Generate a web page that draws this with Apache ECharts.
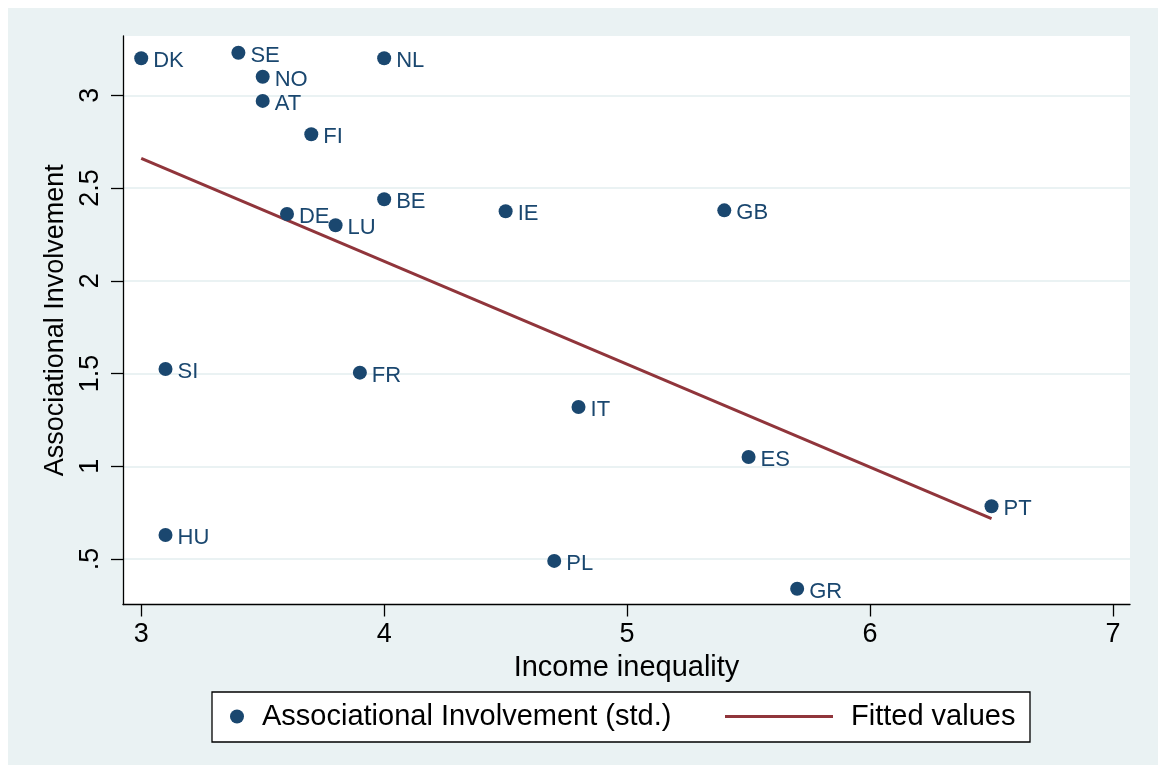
<!DOCTYPE html>
<html>
<head>
<meta charset="utf-8">
<title>Associational Involvement and Income inequality</title>
<script src="https://cdn.jsdelivr.net/npm/echarts@6/dist/echarts.min.js"></script>
<style>
  html, body { margin: 0; padding: 0; background: #ffffff; }
  #chart { width: 1162px; height: 771px; }
</style>
</head>
<body>
<div id="chart"></div>
<script>
// Country codes with income inequality (x) and standardised associational involvement (y)
const countries = ['DK', 'SE', 'NL', 'NO', 'AT', 'FI', 'BE', 'DE', 'LU', 'IE', 'GB',
                   'SI', 'FR', 'IT', 'ES', 'PT', 'HU', 'PL', 'GR'];
const inequality = [3.0, 3.4, 4.0, 3.5, 3.5, 3.7, 4.0, 3.6, 3.8, 4.5, 5.4,
                    3.1, 3.9, 4.8, 5.5, 6.5, 3.1, 4.7, 5.7];
const involvement = [3.20, 3.23, 3.20, 3.10, 2.97, 2.79, 2.44, 2.36, 2.30, 2.375, 2.38,
                     1.525, 1.505, 1.32, 1.05, 0.785, 0.63, 0.49, 0.34];

// Endpoints of the fitted regression line
const fittedX = [3.0, 6.5];
const fittedY = [2.66, 0.718];

// Axis ticks
const xTicks = [3, 4, 5, 6, 7];
const yTicks = [0.5, 1, 1.5, 2, 2.5, 3];

const NAVY = '#1a476f';
const MAROON = '#90353b';
const BG = '#eaf2f3';
const FONT = '"Liberation Sans", Arial, sans-serif';

const scatterData = countries.map((c, i) => ({ name: c, value: [inequality[i], involvement[i]] }));
const fittedData = fittedX.map((x, i) => [x, fittedY[i]]);

const chart = echarts.init(document.getElementById('chart'), null, { renderer: 'canvas' });

chart.setOption({
  backgroundColor: '#ffffff',
  animation: false,
  textStyle: { fontFamily: FONT },
  graphic: [
    {
      type: 'rect', z: -10, silent: true,
      shape: { x: 8, y: 8, width: 1150, height: 757 },
      style: { fill: BG }
    },
    {
      type: 'rect', z: 0, silent: true,
      shape: { x: 212, y: 692, width: 818, height: 50 },
      style: { fill: '#ffffff', stroke: '#000000', lineWidth: 1.3 }
    }
  ],
  grid: {
    left: 123, top: 36, right: 32, bottom: 166.5,
    show: true, backgroundColor: '#ffffff', borderWidth: 0
  },
  legend: [
    {
      data: [{ name: 'Associational Involvement (std.)', icon: 'circle' }],
      left: 230, top: 702,
      padding: 0,
      itemWidth: 14, itemHeight: 14, itemGap: 0,
      textStyle: { fontSize: 29, color: '#000000', fontFamily: FONT, padding: [0, 0, 0, 13] },
      selectedMode: false, z: 5
    },
    {
      data: [{ name: 'Fitted values', icon: 'rect' }],
      left: 725, top: 702,
      padding: 0,
      itemWidth: 108, itemHeight: 3,
      textStyle: { fontSize: 29, color: '#000000', fontFamily: FONT, padding: [0, 0, 0, 13] },
      selectedMode: false, z: 5
    }
  ],
  xAxis: {
    type: 'value',
    min: 2.925, max: 7.07,
    name: 'Income inequality',
    nameLocation: 'middle',
    nameGap: 44,
    nameTextStyle: { fontSize: 29, color: '#000000', fontFamily: FONT },
    axisLine: { show: true, onZero: false, lineStyle: { color: '#000000', width: 1.3 } },
    axisTick: { show: true, length: 12, lineStyle: { color: '#000000', width: 1.3 }, customValues: xTicks },
    axisLabel: { fontSize: 27, color: '#000000', margin: 17, customValues: xTicks, fontFamily: FONT },
    splitLine: { show: false }
  },
  yAxis: {
    type: 'value',
    min: 0.255, max: 3.32,
    name: 'Associational Involvement',
    nameLocation: 'middle',
    nameGap: 53,
    nameTextStyle: { fontSize: 27, color: '#000000', fontFamily: FONT },
    axisLine: { show: true, onZero: false, lineStyle: { color: '#000000', width: 1.3 } },
    axisTick: { show: true, length: 12, lineStyle: { color: '#000000', width: 1.3 }, customValues: yTicks },
    axisLabel: {
      fontSize: 27, color: '#000000', margin: 19, rotate: 90, customValues: yTicks, fontFamily: FONT,
      formatter: v => String(v).replace(/^0\./, '.')
    },
    splitLine: { show: true, lineStyle: { color: BG, width: 2 } }
  },
  series: [
    {
      name: 'Associational Involvement (std.)',
      type: 'scatter',
      data: scatterData,
      symbol: 'circle',
      symbolSize: 14,
      itemStyle: { color: NAVY, opacity: 1 },
      label: {
        show: true,
        position: 'right',
        distance: 5,
        offset: [0, 3],
        formatter: p => p.name,
        fontSize: 22,
        color: NAVY,
        fontFamily: FONT
      },
      z: 3
    },
    {
      name: 'Fitted values',
      type: 'line',
      data: fittedData,
      symbol: 'none',
      lineStyle: { color: MAROON, width: 3 },
      itemStyle: { color: MAROON },
      z: 2
    }
  ]
});
</script>
</body>
</html>
